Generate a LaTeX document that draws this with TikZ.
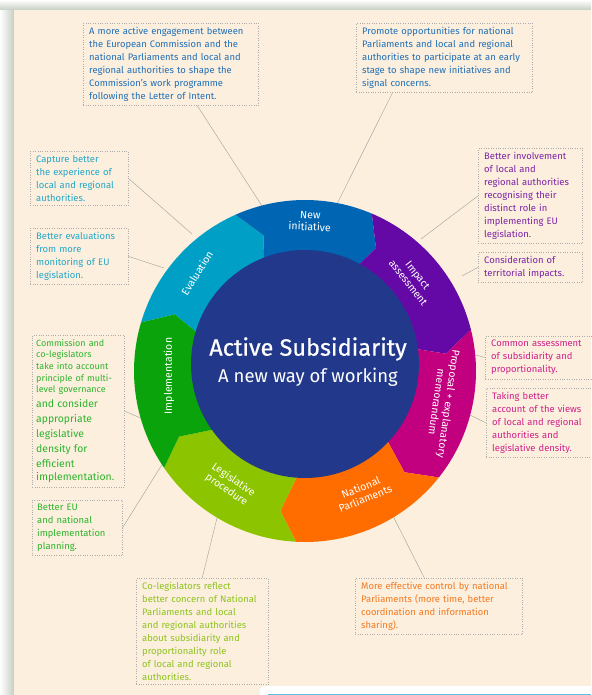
\documentclass[tikz,border=0pt]{standalone}
\usepackage{fontspec}
\setmainfont{Fira Sans}
\newfontfamily\titlefont{Fira Sans}[FakeBold=0.7]
\definecolor{cream}{HTML}{FCEFDD}
\definecolor{shadowgreen}{HTML}{C6CFC3}
\definecolor{niblue}{HTML}{0066B3}
\definecolor{iapurple}{HTML}{6409A6}
\definecolor{prmagenta}{HTML}{C2007F}
\definecolor{nporange}{HTML}{FF6C00}
\definecolor{lplime}{HTML}{8DC400}
\definecolor{imgreen}{HTML}{0BA30B}
\definecolor{evcyan}{HTML}{00A0C6}
\definecolor{coreblue}{HTML}{22388A}
\definecolor{txblue}{HTML}{1F6FB8}
\definecolor{txcyan}{HTML}{22A7C9}
\definecolor{txpurple}{HTML}{7D22A8}
\definecolor{txmagenta}{HTML}{D0208A}
\definecolor{txgreen}{HTML}{2DB42D}
\definecolor{txlime}{HTML}{8EC31F}
\definecolor{txorange}{HTML}{F47A20}
\definecolor{ribbon}{HTML}{5BC0DE}

\begin{document}
\begin{tikzpicture}[x=1pt, y=-1pt,
    note/.style={draw=gray!65, dotted, anchor=north west, inner xsep=6pt, inner ysep=4pt,
      align=left, font=\fontsize{9.4}{13}\selectfont},
    link/.style={draw=gray!75, line width=0.4pt},
    seglabel/.style={text=white, align=center, font=\fontsize{10.5}{12}\selectfont}]
  \useasboundingbox (0,0) rectangle (591,695);
  \fill[white] (0,0) rectangle (591,695);
  \shade[left color=white, right color=shadowgreen] (0,0) rectangle (14,695);
  \shade[top color=white, bottom color=shadowgreen] (0,0) rectangle (591,10);
  \fill[cream] (14,10) rectangle (591,695);
  \fill[white, rounded corners=4pt] (260,686) rectangle (600,705);
  \draw[ribbon, line width=1pt] (268,694.5) -- (591,694.5);

  \node[note, text=txblue, text width=163pt] (engage) at (83,23) {A more active engagement between\\the European Commission and the\\national Parliaments and local and\\regional authorities to shape the\\Commission's work programme\\following the Letter of Intent.};
  \node[note, text=txblue, text width=164pt] (promote) at (356,23) {Promote opportunities for national\\Parliaments and local and regional\\authorities to participate at an early\\stage to shape new initiatives and\\signal concerns.};
  \node[note, text=txcyan, text width=86pt] (capture) at (30,151) {Capture better\\the experience of\\local and regional\\authorities.};
  \node[note, text=txcyan, text width=86pt] (evaluate) at (30,228) {Better evaluations\\from more\\monitoring of EU\\legislation.};
  \node[note, text=txpurple, text width=92pt] (involve) at (478,148) {Better involvement\\of local and\\regional authorities\\recognising their\\distinct role in\\implementing EU\\legislation.};
  \node[note, text=txpurple, text width=92pt] (territory) at (478,252) {Consideration of\\territorial impacts.};
  \node[note, text=txmagenta, text width=104pt] (common) at (485,336) {Common assessment\\of subsidiarity and\\proportionality.};
  \node[note, text=txmagenta, text width=104pt] (account) at (486,388) {Taking better\\account of the views\\of local and regional\\authorities and\\legislative density.};
  \node[note, text=txgreen, text width=84pt, inner xsep=4pt] (multilevel) at (32,335) {\fontsize{9}{11.6}\selectfont Commission and\\co-legislators\\take into account\\principle of multi-\\level governance\par
    \fontsize{10.4}{15}\selectfont and consider\\appropriate\\legislative\\density for\\efficient\\implementation.};
  \node[note, text=txgreen, text width=80pt, inner xsep=5pt] (planning) at (32,500) {Better EU\\and national\\implementation\\planning.};
  \node[note, text=txlime, text width=120pt] (colegis) at (136,578) {Co-legislators reflect\\better concern of National\\Parliaments and local\\and regional authorities\\about subsidiarity and\\proportionality role\\of local and regional\\authorities.};
  \node[note, text=txorange, text width=155pt] (control) at (355,578) {More effective control by national\\Parliaments (more time, better\\coordination and information\\sharing).};

  \coordinate (c1) at (262,206);
  \coordinate (c2) at (336,206);
  \coordinate (c3) at (192,234);
  \coordinate (c4) at (164,268);
  \coordinate (c5) at (421,239);
  \coordinate (c6) at (462,276);
  \coordinate (c7) at (472,354);
  \coordinate (c8) at (464,412);
  \coordinate (c9) at (143,419);
  \coordinate (c10) at (163,463);
  \coordinate (c11) at (217,518);
  \coordinate (c12) at (391,512);

  \draw[link] (engage) -- (c1);
  \draw[link] (promote.-146) -- (c2);
  \draw[link] (capture.east) -- (c3);
  \draw[link] (evaluate.east) -- (c4);
  \draw[link] (involve.west) -- (c5);
  \draw[link] (territory.west) -- (c6);
  \draw[link] (common.west) -- (c7);
  \draw[link] (account.west) -- (c8);
  \draw[link] (multilevel.east) -- (c9);
  \draw[link] (planning.east) -- (c10);
  \draw[link] (colegis.north) -- (c11);
  \draw[link] (control) -- (c12);

  \begin{scope}[shift={(305,371)}, yscale=-1]
    \foreach \s/\e/\c in {163.5/114/evcyan, 114/67/niblue, 67/14/iapurple, 14/-38.5/prmagenta,
        -38.5/-93/nporange, -93/-145.5/lplime, 214.5/163.5/imgreen}
      \fill[\c] (\s:171) arc[start angle=\s, end angle=\e, radius=171] -- (\e-7:142) -- (\e:100)
        arc[start angle=\e, end angle=\s, radius=100] -- (\s-7:142) -- cycle;
    \fill[coreblue] (0,7) circle (114);
  \end{scope}

  \node[seglabel, rotate=-3] (lblnew) at (310,221) {New\\initiative};
  \node[seglabel, rotate=-52] (lblimpact) at (413,279) {Impact\\assessment};
  \node[seglabel, rotate=-98] (lblproposal) at (443,403) {Proposal + explanatory\\memorandum};
  \node[seglabel, rotate=22] (lblnational) at (363,493) {National\\Parliaments};
  \node[seglabel, rotate=-35] (lbllegis) at (230,485) {Legislative\\procedure};
  \node[seglabel, rotate=90] (lblimpl) at (169,376) {Implementation};
  \node[seglabel, rotate=58] (lbleval) at (197,273) {Evaluation};

  \node[text=white, font=\titlefont\fontsize{23.5}{26}\selectfont] (title) at (308,349) {Active Subsidiarity};
  \node[text=white, font=\fontsize{18.5}{21}\selectfont] (subtitle) at (308,377) {A new way of working};
\end{tikzpicture}
\end{document}
